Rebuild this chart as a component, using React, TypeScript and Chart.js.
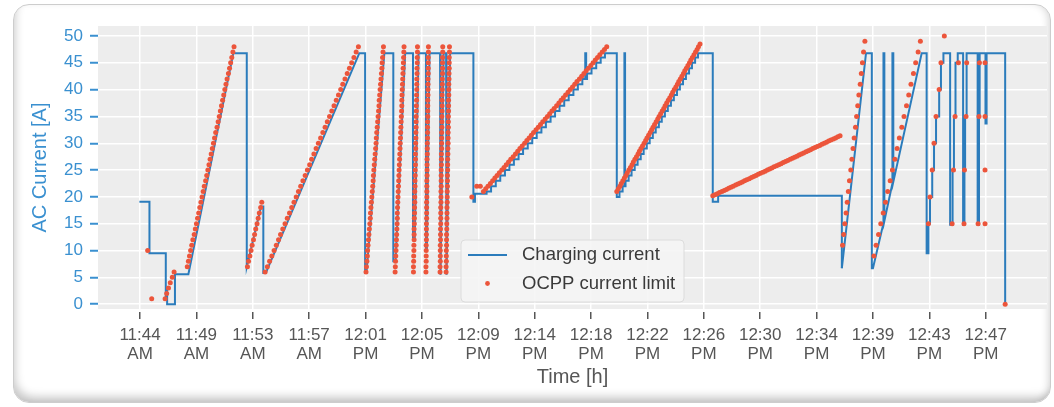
import React, { useEffect, useRef } from "react";
import { Chart, registerables } from "chart.js";

Chart.register(...registerables);

const FONT = "'Liberation Sans', Arial, Helvetica, sans-serif";

// ---- axes ----
const tickTimes = [0, 252, 504, 756, 1008, 1260, 1512, 1764, 2016, 2268, 2520, 2772, 3024, 3276, 3528, 3780];
const tickClock = ["11:44", "11:49", "11:53", "11:57", "12:01", "12:05", "12:09", "12:14", "12:18", "12:22", "12:26", "12:30", "12:34", "12:39", "12:43", "12:47"];
const tickMeridiem = ["AM", "AM", "AM", "AM", "PM", "PM", "PM", "PM", "PM", "PM", "PM", "PM", "PM", "PM", "PM", "PM"];
const yTicks = [0, 5, 10, 15, 20, 25, 30, 35, 40, 45, 50];

// ---- charging current (seconds after 11:44, amps) ----
// early part, drawn as a polyline
const chargeEarlyT = [
  -3, 42, 42, 115, 115, 119, 121, 121, 156, 156,
  216, 417, 477, 477, 541, 551, 551, 562, 980, 1006,
  1006, 1012, 1092, 1132, 1132, 1142, 1185, 1220, 1220, 1228,
  1245, 1278, 1278, 1282, 1294, 1341, 1341, 1345, 1357, 1368,
  1368, 1372, 1386, 1490, 1490, 1497, 1497, 1542,
];
const chargeEarlyA = [
  19.1, 19.1, 9.5, 9.5, 1.0, 3.0, 3.0, 0, 0, 5.6,
  5.6, 46.8, 46.8, 7.0, 18.2, 18.2, 5.8, 5.8, 46.8, 46.8,
  5.8, 5.8, 46.8, 46.8, 8.0, 8.0, 46.8, 46.8, 12.5, 12.5,
  46.8, 46.8, 10.0, 10.0, 46.8, 46.8, 5.5, 5.5, 46.8, 46.8,
  5.5, 5.5, 46.8, 46.8, 19.1, 19.1, 20.6, 20.6,
];
// middle part, 1 A steps (value holds until the next time)
const chargeStepT = [
  1542, 1549, 1569, 1590, 1610, 1631, 1651, 1671, 1692, 1712,
  1733, 1753, 1773, 1794, 1814, 1835, 1855, 1875, 1896, 1916,
  1937, 1957, 1977, 1990, 1994, 1998, 2018, 2039, 2059, 2078,
  2131, 2143, 2157, 2165, 2168, 2170, 2184, 2197, 2211, 2224,
  2238, 2251, 2265, 2278, 2292, 2305, 2319, 2332, 2346, 2359,
  2373, 2386, 2400, 2413, 2427, 2440, 2454, 2467, 2481, 2494,
  2560, 2584, 3137,
];
const chargeStepA = [
  20.6, 21, 22, 23, 24, 25, 26, 27, 28, 29,
  30, 31, 32, 33, 34, 35, 36, 37, 38, 39,
  40, 41, 42, 46.8, 42, 43, 44, 45, 46, 46.8,
  20.0, 21, 22, 46.8, 22, 23, 24, 25, 26, 27,
  28, 29, 30, 31, 32, 33, 34, 35, 36, 37,
  38, 39, 40, 41, 42, 43, 44, 45, 46, 46.8,
  19.1, 20.2, 6.7,
];
// late part, polyline
const chargeLateT = [
  3137, 3245, 3271, 3271, 3276, 3323, 3323, 3327, 3327, 3363,
  3363, 3367, 3367, 3494, 3516, 3516, 3524, 3524, 3531, 3531,
  3541, 3541, 3549, 3549, 3558, 3558, 3572, 3572, 3580, 3580,
  3591, 3591, 3621, 3621, 3632, 3632, 3638, 3638, 3645, 3645,
  3655, 3655, 3679, 3679, 3685, 3685, 3688, 3688, 3692, 3692,
  3696, 3696, 3744, 3744, 3750, 3750, 3753, 3753, 3779, 3779,
  3784, 3784, 3867, 3867,
];
const chargeLateA = [
  6.7, 46.8, 46.8, 6.7, 6.7, 15.1, 46.8, 46.8, 15.5, 22.5,
  46.8, 46.8, 22.8, 46.8, 46.8, 9.5, 9.5, 15, 15, 20,
  20, 25, 25, 30, 30, 35, 35, 40, 40, 45,
  45, 46.8, 46.8, 14.8, 14.8, 25, 25, 35, 35, 45,
  45, 46.8, 46.8, 14.8, 14.8, 25, 25, 35, 35, 45,
  45, 46.8, 46.8, 14.8, 14.8, 35, 35, 46.8, 46.8, 33.7,
  33.7, 46.8, 46.8, 0,
];

// ---- OCPP current limit (seconds after 11:44, amps), segment by segment ----
const ocppStartT = [34, 52, 112, 119, 127, 135, 144, 152];
const ocppStartA = [10, 1, 1, 2, 3, 4, 5, 6];

const amps7to48 = [7, 8, 9, 10, 11, 12, 13, 14, 15, 16, 17, 18, 19, 20, 21, 22, 23, 24, 25, 26, 27, 28, 29, 30, 31, 32, 33, 34, 35, 36, 37, 38, 39, 40, 41, 42, 43, 44, 45, 46, 47, 48];
const amps7to19 = [7, 8, 9, 10, 11, 12, 13, 14, 15, 16, 17, 18, 19];
const amps6to48 = [6, 7, 8, 9, 10, 11, 12, 13, 14, 15, 16, 17, 18, 19, 20, 21, 22, 23, 24, 25, 26, 27, 28, 29, 30, 31, 32, 33, 34, 35, 36, 37, 38, 39, 40, 41, 42, 43, 44, 45, 46, 47, 48];

const ocppRamp1T = [211, 216, 221, 226, 231, 236, 242, 247, 252, 257, 262, 267, 272, 277, 282, 287, 293, 298, 303, 308, 313, 318, 323, 328, 333, 338, 344, 349, 354, 359, 364, 369, 374, 379, 384, 389, 395, 400, 405, 410, 415, 420];
const ocppRamp2T = [480, 485, 491, 496, 501, 507, 512, 517, 523, 528, 533, 539, 544];
const ocppRamp3T = [559, 569, 579, 589, 599, 609, 619, 628, 638, 648, 658, 668, 678, 688, 698, 708, 718, 728, 738, 748, 758, 767, 777, 787, 797, 807, 817, 827, 837, 847, 857, 867, 877, 887, 897, 906, 916, 926, 936, 946, 956, 966, 976];
const ocppColAT = [1010, 1012, 1014, 1016, 1017, 1019, 1021, 1023, 1025, 1027, 1029, 1030, 1032, 1034, 1036, 1038, 1040, 1042, 1043, 1045, 1047, 1049, 1051, 1053, 1055, 1056, 1058, 1060, 1062, 1064, 1066, 1068, 1069, 1071, 1073, 1075, 1077, 1079, 1081, 1082, 1084, 1086, 1088];
const ocppColBT = [1140, 1141, 1142, 1143, 1144, 1145, 1146, 1147, 1148, 1149, 1150, 1150, 1151, 1152, 1153, 1154, 1155, 1156, 1157, 1158, 1159, 1160, 1161, 1162, 1163, 1164, 1165, 1166, 1167, 1168, 1169, 1170, 1170, 1171, 1172, 1173, 1174, 1175, 1176, 1177, 1178, 1179, 1180];
const ocppColCT = [1222, 1222, 1223, 1223, 1224, 1224, 1225, 1225, 1225, 1226, 1226, 1227, 1227, 1228, 1228, 1228, 1229, 1229, 1230, 1230, 1231, 1231, 1231, 1232, 1232, 1233, 1233, 1234, 1234, 1234, 1235, 1235, 1236, 1236, 1237, 1237, 1237, 1238, 1238, 1239, 1239, 1240, 1240];
const ocppColDT = [1278, 1278, 1279, 1279, 1279, 1279, 1280, 1280, 1280, 1280, 1281, 1281, 1281, 1281, 1282, 1282, 1282, 1282, 1283, 1283, 1283, 1283, 1284, 1284, 1284, 1285, 1285, 1285, 1285, 1286, 1286, 1286, 1286, 1287, 1287, 1287, 1287, 1288, 1288, 1288, 1288, 1289, 1289];
const ocppColET = [1341, 1341, 1342, 1342, 1342, 1342, 1343, 1343, 1343, 1344, 1344, 1344, 1344, 1345, 1345, 1345, 1346, 1346, 1346, 1346, 1347, 1347, 1347, 1348, 1348, 1348, 1348, 1349, 1349, 1349, 1350, 1350, 1350, 1350, 1351, 1351, 1351, 1352, 1352, 1352, 1352, 1353, 1353];
const ocppColFT = [1368, 1368, 1369, 1369, 1369, 1370, 1370, 1370, 1371, 1371, 1372, 1372, 1372, 1373, 1373, 1373, 1374, 1374, 1374, 1375, 1375, 1375, 1376, 1376, 1377, 1377, 1377, 1378, 1378, 1378, 1379, 1379, 1379, 1380, 1380, 1380, 1381, 1381, 1382, 1382, 1382, 1383, 1383];

const ocppBumpT = [1483, 1505, 1521];
const ocppBumpA = [20, 22, 22];

const ocppRamp6T = [
  1535, 1545, 1555, 1566, 1576, 1586, 1596, 1606, 1617, 1627,
  1637, 1647, 1657, 1668, 1678, 1688, 1698, 1708, 1719, 1729,
  1739, 1749, 1759, 1770, 1780, 1790, 1800, 1811, 1821, 1831,
  1841, 1851, 1862, 1872, 1882, 1892, 1902, 1913, 1923, 1933,
  1943, 1953, 1964, 1974, 1984, 1994, 2004, 2015, 2025, 2035,
  2045, 2055, 2066, 2076, 2086,
];
const ocppRamp6A = [
  21, 21.5, 22, 22.5, 23, 23.5, 24, 24.5, 25, 25.5,
  26, 26.5, 27, 27.5, 28, 28.5, 29, 29.5, 30, 30.5,
  31, 31.5, 32, 32.5, 33, 33.5, 34, 34.5, 35, 35.5,
  36, 36.5, 37, 37.5, 38, 38.5, 39, 39.5, 40, 40.5,
  41, 41.5, 42, 42.5, 43, 43.5, 44, 44.5, 45, 45.5,
  46, 46.5, 47, 47.5, 48,
];
const ocppRamp7T = [
  2131, 2138, 2145, 2151, 2158, 2165, 2172, 2178, 2185, 2192,
  2199, 2205, 2212, 2219, 2226, 2232, 2239, 2246, 2253, 2260,
  2266, 2273, 2280, 2287, 2293, 2300, 2307, 2314, 2320, 2327,
  2334, 2341, 2347, 2354, 2361, 2368, 2375, 2381, 2388, 2395,
  2402, 2408, 2415, 2422, 2429, 2435, 2442, 2449, 2456, 2462,
  2469, 2476, 2483, 2490, 2496, 2503,
];
const ocppRamp7A = [
  21, 21.5, 22, 22.5, 23, 23.5, 24, 24.5, 25, 25.5,
  26, 26.5, 27, 27.5, 28, 28.5, 29, 29.5, 30, 30.5,
  31, 31.5, 32, 32.5, 33, 33.5, 34, 34.5, 35, 35.5,
  36, 36.5, 37, 37.5, 38, 38.5, 39, 39.5, 40, 40.5,
  41, 41.5, 42, 42.5, 43, 43.5, 44, 44.5, 45, 45.5,
  46, 46.5, 47, 47.5, 48, 48.5,
];
const ocppSlopeT = [
  2560, 2570, 2580, 2590, 2601, 2611, 2621, 2631, 2641, 2651,
  2662, 2672, 2682, 2692, 2702, 2712, 2723, 2733, 2743, 2753,
  2763, 2773, 2784, 2794, 2804, 2814, 2824, 2834, 2845, 2855,
  2865, 2875, 2885, 2895, 2906, 2916, 2926, 2936, 2946, 2956,
  2966, 2977, 2987, 2997, 3007, 3017, 3027, 3038, 3048, 3058,
  3068, 3078, 3088, 3099, 3109, 3119, 3129,
];
const ocppSlopeA = [
  20.2, 20.4, 20.6, 20.8, 21, 21.2, 21.4, 21.6, 21.8, 22,
  22.2, 22.4, 22.6, 22.8, 23, 23.2, 23.4, 23.6, 23.8, 24,
  24.2, 24.4, 24.6, 24.8, 25, 25.2, 25.4, 25.6, 25.8, 26,
  26.2, 26.4, 26.6, 26.8, 27, 27.2, 27.4, 27.6, 27.8, 28,
  28.2, 28.4, 28.6, 28.8, 29, 29.2, 29.4, 29.6, 29.8, 30,
  30.2, 30.4, 30.6, 30.8, 31, 31.2, 31.4,
];
const ocppRamp8T = [3140, 3145, 3150, 3156, 3161, 3166, 3171, 3177, 3182, 3187, 3192, 3198, 3203, 3208, 3213, 3219, 3224, 3229, 3234, 3240];
const ocppRamp8A = [11, 13, 15, 17, 19, 21, 23, 25, 27, 29, 31, 33, 35, 37, 39, 41, 43, 45, 47, 49];
const ocppRamp9T = [3280, 3290, 3301, 3311, 3322, 3332, 3342, 3353, 3363, 3374, 3384, 3394, 3405, 3415, 3426, 3436, 3446, 3457, 3467, 3478, 3488];
const ocppRamp9A = [9, 11, 13, 15, 17, 19, 21, 23, 25, 27, 29, 31, 33, 35, 37, 39, 41, 43, 45, 47, 49];
const ocppEndT = [3524, 3531, 3541, 3549, 3558, 3572, 3580, 3595, 3630, 3636, 3643, 3658, 3683, 3685, 3692, 3695, 3746, 3750, 3752, 3777, 3777, 3777, 3777, 3867];
const ocppEndA = [15, 20, 25, 30, 35, 40, 45, 50, 15, 25, 35, 45, 15, 25, 35, 45, 15, 35, 45, 15, 25, 35, 45, 0];

const ocppSegments: [number[], number[]][] = [
  [ocppStartT, ocppStartA],
  [ocppRamp1T, amps7to48],
  [ocppRamp2T, amps7to19],
  [ocppRamp3T, amps6to48],
  [ocppColAT, amps6to48],
  [ocppColBT, amps6to48],
  [ocppColCT, amps6to48],
  [ocppColDT, amps6to48],
  [ocppColET, amps6to48],
  [ocppColFT, amps6to48],
  [ocppBumpT, ocppBumpA],
  [ocppRamp6T, ocppRamp6A],
  [ocppRamp7T, ocppRamp7A],
  [ocppSlopeT, ocppSlopeA],
  [ocppRamp8T, ocppRamp8A],
  [ocppRamp9T, ocppRamp9A],
  [ocppEndT, ocppEndA],
];

const BLUE = "#2b7cbc";
const RED = "#ec553b";
const AXIS_BLUE = "#3a90d0";
const GREY_TEXT = "#565656";

const toPoints = (ts: number[], as: number[]) => {
  const n = Math.min(ts.length, as.length);
  const out: { x: number; y: number }[] = [];
  for (let i = 0; i < n; i++) out.push({ x: ts[i], y: as[i] });
  return out;
};

const plotBackground = {
  id: "plotBackground",
  beforeDraw(chart: any) {
    const { ctx, chartArea } = chart;
    ctx.save();
    ctx.fillStyle = "#ededed";
    ctx.fillRect(chartArea.left, chartArea.top, chartArea.right - chartArea.left, chartArea.bottom - chartArea.top);
    ctx.restore();
  },
};

const innerLegend = {
  id: "innerLegend",
  afterDraw(chart: any) {
    const { ctx, chartArea } = chart;
    const x = chartArea.left + 363;
    const y = chartArea.top + 214;
    const w = 223;
    const h = 62;
    ctx.save();
    ctx.beginPath();
    ctx.roundRect(x, y, w, h, 4);
    ctx.fillStyle = "rgba(244,244,244,0.85)";
    ctx.fill();
    ctx.strokeStyle = "#dcdcdc";
    ctx.lineWidth = 1;
    ctx.stroke();
    ctx.beginPath();
    ctx.moveTo(x + 7, y + 15);
    ctx.lineTo(x + 46, y + 15);
    ctx.strokeStyle = BLUE;
    ctx.lineWidth = 2;
    ctx.stroke();
    ctx.beginPath();
    ctx.arc(x + 26.5, y + 43.5, 2.4, 0, Math.PI * 2);
    ctx.fillStyle = RED;
    ctx.fill();
    ctx.fillStyle = "#3a3a3a";
    ctx.font = `18.5px ${FONT}`;
    ctx.textBaseline = "middle";
    ctx.textAlign = "left";
    ctx.fillText("Charging current", x + 61, y + 15);
    ctx.fillText("OCPP current limit", x + 61, y + 43.5);
    ctx.restore();
  },
};

export default function App() {
  const canvasRef = useRef<HTMLCanvasElement | null>(null);

  useEffect(() => {
    const canvas = canvasRef.current;
    if (!canvas) return;

    const ocppData: { x: number; y: number }[] = [];
    ocppSegments.forEach(([ts, as]) => ocppData.push(...toPoints(ts, as)));

    const lineStyle = {
      showLine: true,
      borderColor: BLUE,
      backgroundColor: BLUE,
      borderWidth: 2,
      pointRadius: 0,
      tension: 0,
      order: 2,
    };

    const chart = new Chart(canvas, {
      type: "scatter",
      data: {
        datasets: [
          { label: "Charging current", data: toPoints(chargeEarlyT, chargeEarlyA), ...lineStyle },
          { label: "Charging current (steps)", data: toPoints(chargeStepT, chargeStepA), stepped: "before", ...lineStyle },
          { label: "Charging current (late)", data: toPoints(chargeLateT, chargeLateA), ...lineStyle },
          {
            label: "OCPP current limit",
            data: ocppData,
            showLine: false,
            backgroundColor: RED,
            borderWidth: 0,
            pointRadius: 2.5,
            order: 1,
          },
        ],
      },
      options: {
        responsive: false,
        animation: false,
        devicePixelRatio: 1,
        layout: { padding: { left: 24, right: 7, top: 26, bottom: 14 } },
        plugins: { legend: { display: false }, tooltip: { enabled: false } },
        scales: {
          x: {
            type: "linear",
            min: -188,
            max: 4054,
            afterBuildTicks: (scale: any) => {
              scale.ticks = tickTimes.map((v) => ({ value: v }));
            },
            afterFit: (scale: any) => {
              scale.height = 84;
            },
            ticks: {
              autoSkip: false,
              maxRotation: 0,
              color: GREY_TEXT,
              padding: 7,
              font: { family: FONT, size: 17, lineHeight: 1.12 },
              callback: (value: any) => {
                const i = tickTimes.indexOf(Number(value));
                return i >= 0 ? [tickClock[i], tickMeridiem[i]] : "";
              },
            },
            grid: {
              color: "#ffffff",
              lineWidth: 1.5,
              tickColor: GREY_TEXT,
              tickLength: 10,
              tickWidth: 1.5,
              tickBorderDash: [7, 1000],
              tickBorderDashOffset: -3,
            },
            border: { display: false },
            title: {
              display: true,
              text: "Time [h]",
              color: GREY_TEXT,
              font: { family: FONT, size: 20 },
              padding: { top: 4, bottom: 4 },
            },
          },
          y: {
            min: -0.9,
            max: 51.86,
            afterBuildTicks: (scale: any) => {
              scale.ticks = yTicks.map((v) => ({ value: v }));
            },
            afterFit: (scale: any) => {
              scale.width = 74;
            },
            ticks: {
              color: AXIS_BLUE,
              padding: 4,
              font: { family: FONT, size: 17 },
            },
            grid: {
              color: "#ffffff",
              lineWidth: 1.5,
              tickColor: AXIS_BLUE,
              tickLength: 11,
              tickWidth: 2,
              tickBorderDash: [8, 1000],
              tickBorderDashOffset: -3,
            },
            border: { display: false },
            title: {
              display: true,
              text: "AC Current [A]",
              color: AXIS_BLUE,
              font: { family: FONT, size: 20 },
              padding: { top: 4, bottom: 4 },
            },
          },
        },
      },
      plugins: [plotBackground, innerLegend],
    } as any);

    return () => chart.destroy();
  }, []);

  return (
    <div style={{ position: "fixed", left: 0, top: 0, width: 1054, height: 407, background: "#ffffff", overflow: "hidden" }}>
      <div
        style={{
          position: "absolute",
          left: 13,
          top: 4,
          width: 1036,
          height: 397,
          borderRadius: 16,
          border: "1px solid #cdcdcd",
          background: "#ffffff",
          boxShadow: "inset 5px -9px 10px -4px rgba(0,0,0,0.22), inset -5px 0 8px -4px rgba(0,0,0,0.18)",
        }}
      />
      <canvas ref={canvasRef} width={1054} height={407} style={{ position: "absolute", left: 0, top: 0, width: 1054, height: 407 }} />
    </div>
  );
}
